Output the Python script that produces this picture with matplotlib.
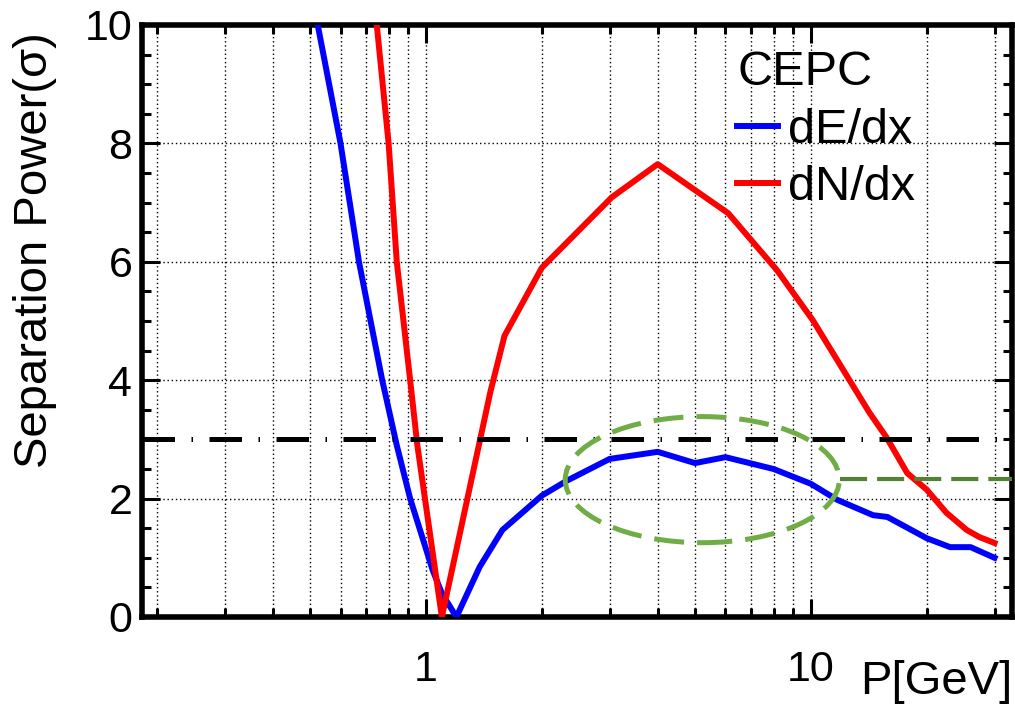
import matplotlib.pyplot as plt
from matplotlib.patches import Ellipse
from matplotlib.ticker import FixedLocator, FuncFormatter, NullFormatter, MultipleLocator

plt.rcParams['font.family'] = ['Liberation Sans', 'DejaVu Sans']

# ---------------- data ----------------
p_dedx = [0.52, 0.60, 0.67, 0.77, 0.84, 0.91, 1.04, 1.10, 1.20, 1.38, 1.58,
          2.0, 2.32, 3.0, 4.0, 5.0, 6.0, 8.0, 10.0, 11.7, 14.5, 15.8, 20.0, 23.0, 26.0, 30.0]
sep_dedx = [10.1, 8.0, 6.0, 4.0, 2.9, 2.0, 0.8, 0.4, 0.0, 0.85, 1.47,
            2.05, 2.3, 2.67, 2.79, 2.6, 2.7, 2.5, 2.25, 1.98, 1.72, 1.69, 1.33, 1.18, 1.18, 1.0]

p_dndx = [0.74, 0.80, 0.84, 0.91, 0.95, 1.10, 1.47, 1.60, 2.0, 3.04, 4.0,
          6.1, 8.16, 10.1, 12.6, 14.2, 15.7, 17.8, 20.0, 22.5, 25.4, 27.4, 30.0]
sep_dndx = [10.2, 8.0, 6.0, 4.0, 2.9, 0.0, 3.8, 4.75, 5.9, 7.09, 7.65,
            6.82, 5.86, 5.02, 4.0, 3.45, 3.04, 2.43, 2.15, 1.76, 1.47, 1.35, 1.25]

threshold = 3.0          # 3 sigma line
box_level = 2.33         # green dashed level on the right
box_start = 11.9

x_major = [1, 10]
x_minor = [0.2, 0.3, 0.4, 0.5, 0.6, 0.7, 0.8, 0.9,
           2, 3, 4, 5, 6, 7, 8, 9, 20, 30]

# ---------------- figure ----------------
fig = plt.figure(figsize=(10.15, 7.11), dpi=100)
ax = fig.add_axes([142 / 1015, 1 - 617 / 711, 870 / 1015, 592 / 711])

ax.plot(p_dedx, sep_dedx, color='#0000ff', lw=4.3, label='dE/dx', zorder=3)
ax.plot(p_dndx, sep_dndx, color='#ff0000', lw=4.3, label='dN/dx', zorder=3)

ax.axhline(threshold, color='black', lw=3.6, ls=(0, (6.5, 3.3, 0.3, 3.3)),
           dash_capstyle='butt', zorder=4)

ell = Ellipse((0.644, 0.232), 0.315, 0.213, transform=ax.transAxes, fill=False,
              edgecolor='#70ad47', lw=3.6, ls=(0, (6, 2.6)), zorder=5)
ax.add_patch(ell)
ax.hlines(box_level, box_start, 33.3, color='#548235', lw=3.0,
          ls=(0, (6.5, 2.4)), zorder=5)

ax.set_xscale('log')
ax.set_xlim(0.183, 33.3)
ax.set_ylim(0, 10)

ax.xaxis.set_major_locator(FixedLocator(x_major))
ax.xaxis.set_minor_locator(FixedLocator(x_minor))
ax.xaxis.set_major_formatter(FuncFormatter(lambda v, _: f'{v:g}'))
ax.xaxis.set_minor_formatter(NullFormatter())
ax.yaxis.set_major_locator(MultipleLocator(2))
ax.yaxis.set_minor_locator(MultipleLocator(0.5))

ax.grid(which='both', axis='x', color='black', ls=(0, (1, 2)), lw=1.0)
ax.grid(which='major', axis='y', color='black', ls=(0, (1, 2)), lw=1.0)

for s in ax.spines.values():
    s.set_linewidth(4)
ax.tick_params(which='both', direction='in', top=True, right=True, width=2.2)
ax.tick_params(which='major', length=13, labelsize=31)
ax.tick_params(which='minor', length=6.5)
ax.tick_params(axis='y', pad=7)
ax.tick_params(axis='x', pad=24)

ax.set_ylabel('Separation Power(σ)', fontsize=34, va='center')
ax.yaxis.set_label_coords(-0.123, 0.62)
ax.set_xlabel('P[GeV]', fontsize=34, loc='right', va='top')
ax.xaxis.set_label_coords(1.0, -0.072)

ax.legend(title='CEPC', loc='upper left', bbox_to_anchor=(0.684, 0.957),
          frameon=False, fontsize=35, title_fontsize=35, handlelength=0.85,
          handletextpad=0.2, borderpad=0, borderaxespad=0, labelspacing=0.25,
          alignment='left')

fig.savefig('out.png', dpi=100)
